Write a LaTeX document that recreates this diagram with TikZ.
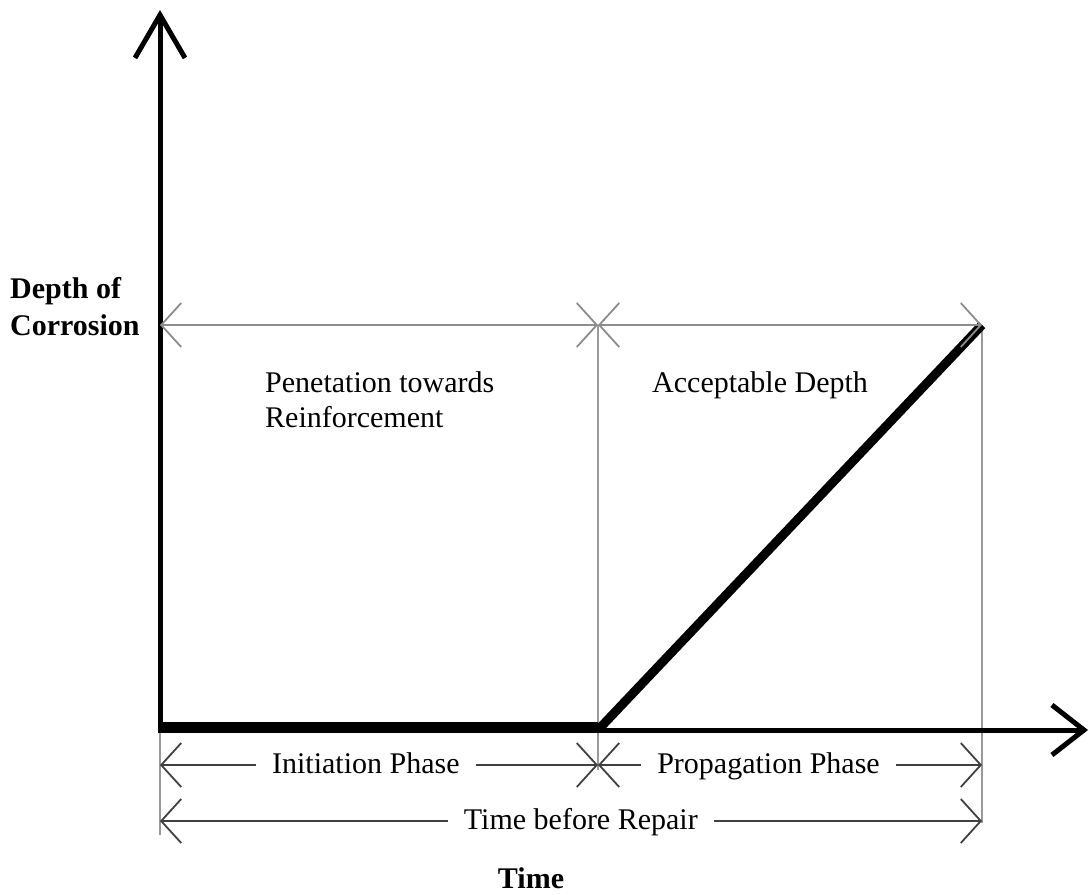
\documentclass[tikz,border=0pt]{standalone}
\usepackage{fontspec}
\setmainfont{Liberation Serif}
\usetikzlibrary{arrows.meta,positioning}

\begin{document}
\begin{tikzpicture}[
    x=1pt, y=-1pt,
    font=\fontsize{30}{35}\selectfont,
    axis/.style={
		line width=5pt,
		{Straight Barb[length=43pt,width=50pt,line width=5pt]}-{Straight Barb[length=32pt,width=50pt,line width=5pt]}
	},
	guide/.style={
		draw=black!40,
		line width=1.5pt
	},
	topdim/.style={
		draw=black!45,
		line width=1.8pt,
		{Straight Barb[length=20pt,width=44pt,line width=1.8pt]}-{Straight Barb[length=20pt,width=44pt,line width=1.8pt]}
	},
	dimline/.style={
		draw=black!75,
		line width=2pt,
		{Straight Barb[length=20pt,width=44pt,line width=1.8pt]}-{Straight Barb[length=20pt,width=44pt,line width=1.8pt]}
	},
	phase/.style={
		fill=white,
		inner xsep=16pt,
		inner ysep=2pt,
		text height=0.7em,
		text depth=0.22em,
		yshift=-6pt
	}
  ]
  \useasboundingbox (0,0) rectangle (1089,894);

    % We start by placing the points
  \coordinate (ytip) at (160,10);
  \coordinate (xtip) at (1088,730);
  \coordinate (origin) at (160,730);
  \coordinate (onset) at (598,730);
  \coordinate (repair) at (982,325);
  \coordinate (depth) at (160,325);
  \coordinate (mid) at (598,325);

 % guide lines
 \draw [guide] (mid) -- (598,770);
 \draw [guide] (repair) -- (982,823);
 \draw [guide] (origin) -- (160,835);

 % the axes
 \draw [axis] (ytip) |- (xtip);

 % the corrosion curve
 \draw [line width=11pt] (157.5,727.5) -- (598,727.5);
 \draw [line width=9pt] (onset) -- (repair);

 % dimension lines
 \draw [topdim] (depth) -- (mid);
 \draw [topdim] (mid) -- (repair);
 \draw [dimline] (160,765) -- node [phase, pos=0.47] (init) {Initiation Phase} (598,765);
 \draw [dimline] (598,765) -- node [phase, pos=0.444] (prop) {Propagation Phase} (982,765);
 \draw [dimline] (160,821) -- node [phase, pos=0.512] (total) {Time before Repair} (982,821);

 % labels
 \node [anchor=north west, inner sep=0pt, align=left, font=\fontsize{30}{37}\selectfont\bfseries] (ylabel) at (10,277)
 {Depth of\\Corrosion};
 \node [anchor=north west, inner sep=0pt, align=left] (pen) at (265,371)
 {Penetation towards\\Reinforcement};
 \node [anchor=base west, inner sep=0pt] (accept) at (652,392) {Acceptable Depth};
 \node [anchor=base, inner sep=0pt, font=\fontsize{30}{35}\selectfont\bfseries] (xlabel) at (531,888) {Time};

\end{tikzpicture}
\end{document}
